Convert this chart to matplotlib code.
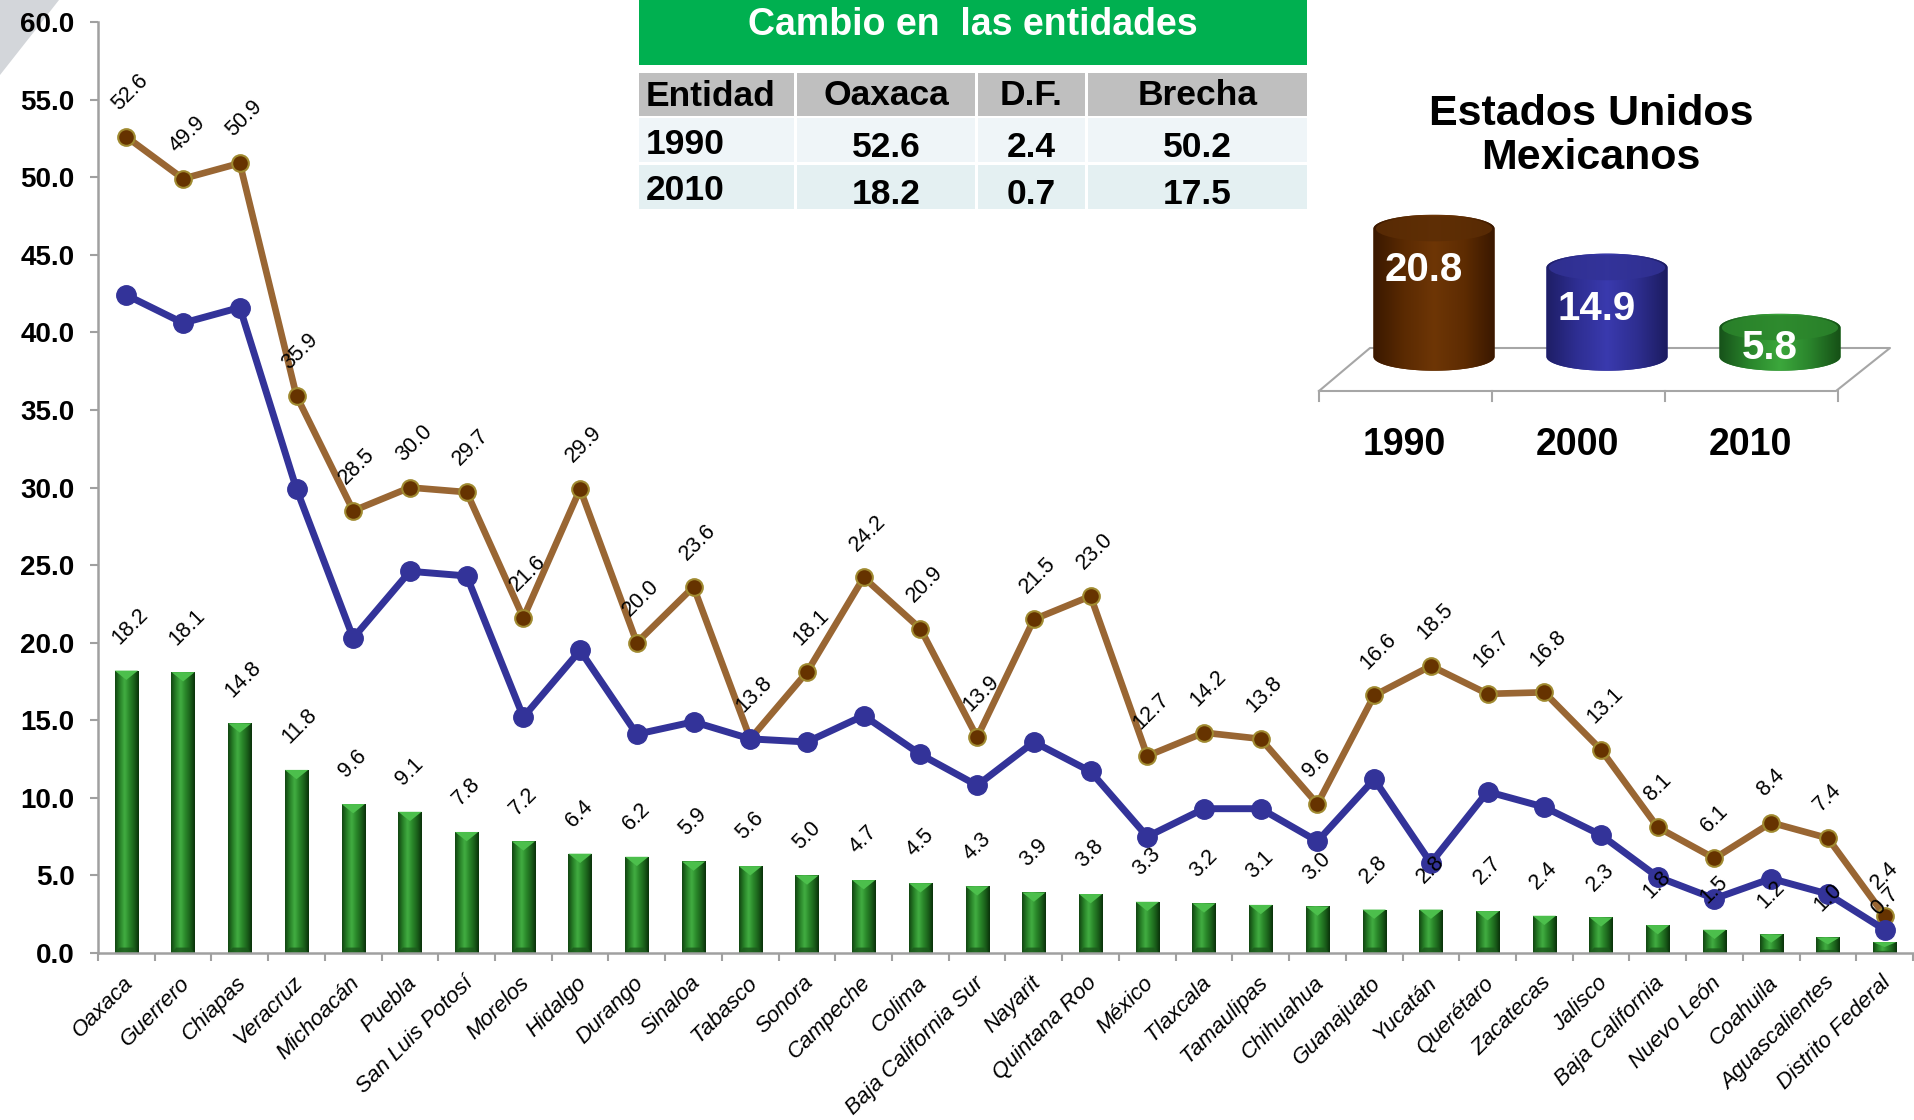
import numpy as np
import matplotlib
matplotlib.use('Agg')
import matplotlib.pyplot as plt
from matplotlib.patches import Rectangle, Polygon, PathPatch, Ellipse
from matplotlib.path import Path
from matplotlib.colors import LinearSegmentedColormap
import matplotlib.transforms as mtransforms

# ---------------- data ----------------
states = ["Oaxaca", "Guerrero", "Chiapas", "Veracruz", "Michoacán", "Puebla",
          "San Luis Potosí", "Morelos", "Hidalgo", "Durango", "Sinaloa", "Tabasco",
          "Sonora", "Campeche", "Colima", "Baja California Sur", "Nayarit",
          "Quintana Roo", "México", "Tlaxcala", "Tamaulipas", "Chihuahua",
          "Guanajuato", "Yucatán", "Querétaro", "Zacatecas", "Jalisco",
          "Baja California", "Nuevo León", "Coahuila", "Aguascalientes",
          "Distrito Federal"]
v1990 = [52.6, 49.9, 50.9, 35.9, 28.5, 30.0, 29.7, 21.6, 29.9, 20.0, 23.6, 13.8,
         18.1, 24.2, 20.9, 13.9, 21.5, 23.0, 12.7, 14.2, 13.8, 9.6, 16.6, 18.5,
         16.7, 16.8, 13.1, 8.1, 6.1, 8.4, 7.4, 2.4]
v2000 = [42.4, 40.6, 41.6, 29.9, 20.3, 24.6, 24.3, 15.2, 19.5, 14.1, 14.9, 13.8,
         13.6, 15.3, 12.8, 10.8, 13.6, 11.7, 7.5, 9.3, 9.3, 7.2, 11.2, 5.8,
         10.4, 9.4, 7.6, 4.9, 3.5, 4.8, 3.8, 1.5]
v2010 = [18.2, 18.1, 14.8, 11.8, 9.6, 9.1, 7.8, 7.2, 6.4, 6.2, 5.9, 5.6, 5.0, 4.7,
         4.5, 4.3, 3.9, 3.8, 3.3, 3.2, 3.1, 3.0, 2.8, 2.8, 2.7, 2.4, 2.3, 1.8, 1.5,
         1.2, 1.0, 0.7]
yticks = [0, 5, 10, 15, 20, 25, 30, 35, 40, 45, 50, 55, 60]

table_title = "Cambio en  las entidades"
table_header = ["Entidad", "Oaxaca", "D.F.", "Brecha"]
table_rows = [["1990", "52.6", "2.4", "50.2"],
              ["2010", "18.2", "0.7", "17.5"]]

nat_title = "Estados Unidos\nMexicanos"
nat_years = ["1990", "2000", "2010"]
nat_values = [20.8, 14.9, 5.8]

# ---------------- figure ----------------
W, H = 1915, 1120
plt.rcParams['font.family'] = ['Liberation Sans', 'DejaVu Sans']
fig = plt.figure(figsize=(W / 100, H / 100), dpi=100)
fig.patch.set_facecolor('white')


def fx(px):
    return px / W


def fy(py):
    return 1 - py / H


# decorative grey corner
fig.patches.append(Polygon([[0, 1], [fx(59), 1], [0, fy(75)]], closed=True,
                           transform=fig.transFigure, facecolor='#D3D6DA',
                           edgecolor='none', zorder=-5))

ax = fig.add_axes([fx(98), fy(953), fx(1913) - fx(98), fy(22) - fy(953)])
ax.set_zorder(2)
ax.patch.set_alpha(0)
x = np.arange(len(states))

# bars (2010)
bars = ax.bar(x, v2010, width=0.41, color='#257F25', zorder=2)
bar_cmap = LinearSegmentedColormap.from_list(
    'barg', ['#114411', '#277F27', '#42AE42', '#2A882A', '#1B621B', '#0A300A'])
grad = np.linspace(0, 1, 128).reshape(1, -1)
for b in bars:
    x0, w, h = b.get_x(), b.get_width(), b.get_height()
    im = ax.imshow(grad, extent=[x0, x0 + w, 0, h], aspect='auto', cmap=bar_cmap,
                   zorder=2.1, interpolation='bicubic')
    im.set_clip_path(b)
    d = min(0.6, h * 0.45)
    ax.add_patch(Polygon([[x0, h], [x0 + w, h], [x0 + w / 2, h - d]], closed=True,
                         facecolor='#4CBF4C', edgecolor='none', zorder=2.2))
    db = min(0.35, h * 0.2)
    ax.add_patch(Polygon([[x0, 0], [x0 + w, 0], [x0 + w * 0.8, db], [x0 + w * 0.2, db]],
                         closed=True, facecolor='#1C5A1C', edgecolor='none',
                         alpha=0.8, zorder=2.2))

# lines
ax.plot(x, v1990, color='#996633', lw=4.8, marker='o', ms=12, mfc='#663300',
        mec='#A08A30', mew=1.5, zorder=4)
ax.plot(x, v2000, color='#333399', lw=5, marker='o', ms=14, mfc='#333399',
        mec='#333399', zorder=5)

# data labels
for xi, v in zip(x, v1990):
    ax.annotate(f'{v:.1f}', (xi, v), xytext=(-2.5, 16), textcoords='offset points',
                rotation=45, rotation_mode='anchor', ha='left', va='bottom',
                fontsize=15.5, color='black', zorder=7)
for xi, v in zip(x, v2010):
    ax.annotate(f'{v:.1f}', (xi, v), xytext=(-2.5, 16), textcoords='offset points',
                rotation=45, rotation_mode='anchor', ha='left', va='bottom',
                fontsize=15.5, color='black', zorder=7)

ax.set_xlim(-0.5, len(states) - 0.5)
ax.set_ylim(0, 60)
ax.set_yticks(yticks)
ax.set_yticklabels([f'{t:.1f}' for t in yticks], fontsize=20, fontweight='bold')
ax.set_xticks(x)
ax.set_xticklabels(states, rotation=45, ha='right', rotation_mode='anchor',
                   fontsize=16, style='italic')
ax.set_xticks(np.arange(-0.5, len(states), 1), minor=True)
ax.tick_params(axis='x', which='major', length=0, pad=14)
ax.tick_params(axis='x', which='minor', length=6, color='#A0A0A0', width=1.5)
ax.tick_params(axis='y', length=6, color='#A0A0A0', width=1.5, pad=11)
for s in ['top', 'right']:
    ax.spines[s].set_visible(False)
for s in ['left', 'bottom']:
    ax.spines[s].set_color('#A0A0A0')
    ax.spines[s].set_linewidth(1.8)
shift = mtransforms.ScaledTranslation(-4 / 100, 0, fig.dpi_scale_trans)
for lab in ax.get_xticklabels():
    lab.set_transform(lab.get_transform() + shift)

# ---------------- table ----------------
def frect(x0, y0, x1, y1, color):
    fig.patches.append(Rectangle((fx(x0), fy(y1)), fx(x1) - fx(x0), fy(y0) - fy(y1),
                                 transform=fig.transFigure, facecolor=color,
                                 edgecolor='none', zorder=1))

frect(639, 0, 1307, 65, '#00B050')
fig.text(fx(973), fy(25), table_title, ha='center', va='center', color='white',
         fontsize=27, fontweight='bold')
cols = [(639, 794), (797, 975), (978, 1085), (1088, 1307)]
rows_y = [(73, 116, '#BFBFBF'), (118, 162, '#EFF5F8'), (165, 209, '#E4F0F2')]
all_rows = [table_header] + table_rows
for ri, ((y0, y1, c), row) in enumerate(zip(rows_y, all_rows)):
    yc = (y0 + y1) / 2
    for (c0, c1), txt in zip(cols, row):
        frect(c0, y0, c1, y1, c)
        if c0 == cols[0][0]:
            off = 11.5 if ri == 0 else 13.5
            fig.text(fx(c0 + 7), fy(yc + off), txt, ha='left', va='baseline',
                     fontsize=25.5, fontweight='bold')
        else:
            off = 10.5 if ri == 0 else 17
            fig.text(fx((c0 + c1) / 2), fy(yc + off), txt, ha='center',
                     va='baseline', fontsize=25.5, fontweight='bold')

# ---------------- national inset ----------------
fig.text(fx(1591), fy(136), nat_title, ha='center', va='center', fontsize=31,
         fontweight='bold', linespacing=1.15)

pxu, pyu = 173.0, 6.6       # px per category unit, px per value unit
zero_px, cx0 = 366.0, 1434.0
L, R, T, B = 1300, 1915, 170, 495
ins = fig.add_axes([fx(L), fy(B), fx(R) - fx(L), fy(T) - fy(B)])
ins.axis('off')

floor_v = 9.3 / pyu          # cylinders stand on the back floor plane
front_y, back_y = -(391 - zero_px) / pyu, (zero_px - 348) / pyu
fl, fr = (1319 - cx0) / pxu, (1836 - cx0) / pxu
bl, br = (1370 - cx0) / pxu, (1890 - cx0) / pxu
ins.plot([fl, fr, br, bl, fl], [front_y, front_y, back_y, back_y, front_y],
         color='#A6A6A6', lw=1.5, zorder=1)
for i in range(len(nat_values) + 1):
    ins.plot([fl + i, fl + i], [front_y, front_y - 10 / pyu], color='#A6A6A6',
             lw=1.5, zorder=1)

cyl_colors = [
    (['#3A1800', '#5A2A02', '#6E3606', '#5E2C02', '#3A1800'], '#5C2D05'),
    (['#1E1E66', '#2E2E92', '#3A3AAE', '#2E2E90', '#1C1C60'], '#323296'),
    (['#17521A', '#2A862C', '#3CA83C', '#2A842C', '#165016'], '#2C862C'),
]
r = 0.35
ey = 14 / pyu
t = np.linspace(0, np.pi, 60)
for i, (v, yr, (cl, topc)) in enumerate(zip(nat_values, nat_years, cyl_colors)):
    c = i
    top_arc = np.column_stack([c - r * np.cos(t), v + ey * np.sin(t)])
    bot_arc = np.column_stack([c + r * np.cos(t), floor_v - ey * np.sin(t)])
    verts = np.vstack([[[c - r, floor_v]], top_arc, [[c + r, floor_v]], bot_arc,
                       [[c - r, floor_v]]])
    body = PathPatch(Path(verts), facecolor=cl[1], edgecolor='none', zorder=3)
    ins.add_patch(body)
    cm = LinearSegmentedColormap.from_list(f'cyl{i}', cl)
    im = ins.imshow(grad, extent=[c - r, c + r, floor_v - ey, v + ey], aspect='auto',
                    cmap=cm, zorder=3.1, interpolation='bicubic')
    im.set_clip_path(body)
    ins.add_patch(Ellipse((c, v), 2 * r * 0.96, 2 * ey * 0.9, facecolor=topc,
                          edgecolor='none', alpha=0.85, zorder=3.2))
    ins.text(c - 0.06, max(v - 6.3, v * 0.47), f'{v:.1f}', ha='center', va='center',
             color='white', fontsize=29, fontweight='bold', zorder=4)
    ins.text(c - 0.17, -(445 - zero_px) / pyu, yr, ha='center', va='center',
             fontsize=27, fontweight='bold', zorder=4)

ins.set_xlim((L - cx0) / pxu, (R - cx0) / pxu)
ins.set_ylim(-(B - zero_px) / pyu, (zero_px - T) / pyu)
ax.set_xlim(-0.5, len(states) - 0.5)
ax.set_ylim(0, 60)

fig.savefig('out.png', dpi=100)
